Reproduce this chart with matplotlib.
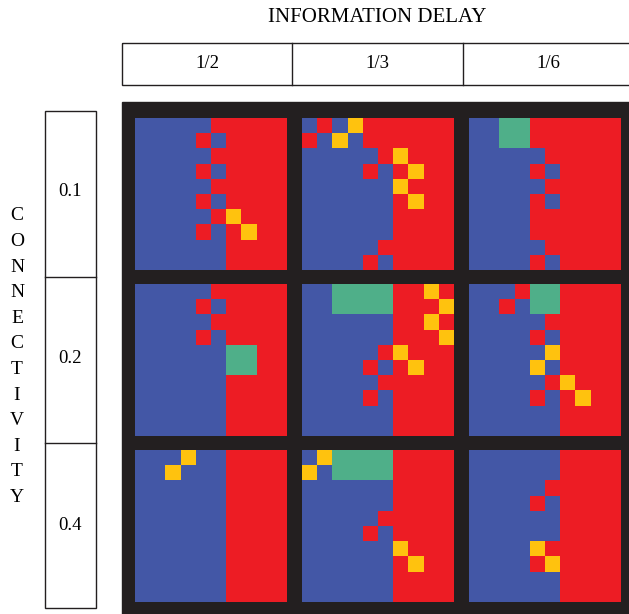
import matplotlib
matplotlib.use("Agg")
import matplotlib.pyplot as plt
from matplotlib.colors import ListedColormap
from matplotlib.patches import Rectangle
import numpy as np

plt.rcParams["font.family"] = ["Liberation Serif", "DejaVu Serif"]

# column / row headers
delays = ["1/2", "1/3", "1/6"]
connectivity = ["0.1", "0.2", "0.4"]

# B = blue, R = red, Y = yellow, G = green
grid_01_12 = ["BBBBBRRRRR", "BBBBRBRRRR", "BBBBBRRRRR", "BBBBRBRRRR", "BBBBBRRRRR",
              "BBBBRBRRRR", "BBBBBRYRRR", "BBBBRBRYRR", "BBBBBBRRRR", "BBBBBBRRRR"]
grid_01_13 = ["BRBYRRRRRR", "RBYBRRRRRR", "BBBBBRYRRR", "BBBBRBRYRR", "BBBBBBYRRR",
              "BBBBBBRYRR", "BBBBBBRRRR", "BBBBBBRRRR", "BBBBBRRRRR", "BBBBRBRRRR"]
grid_01_16 = ["BBGGRRRRRR", "BBGGRRRRRR", "BBBBBRRRRR", "BBBBRBRRRR", "BBBBBRRRRR",
              "BBBBRBRRRR", "BBBBRRRRRR", "BBBBRRRRRR", "BBBBBRRRRR", "BBBBRBRRRR"]
grid_02_12 = ["BBBBBRRRRR", "BBBBRBRRRR", "BBBBBRRRRR", "BBBBRBRRRR", "BBBBBBGGRR",
              "BBBBBBGGRR", "BBBBBBRRRR", "BBBBBBRRRR", "BBBBBBRRRR", "BBBBBBRRRR"]
grid_02_13 = ["BBGGGGRRYR", "BBGGGGRRRY", "BBBBBBRRYR", "BBBBBBRRRY", "BBBBBRYRRR",
              "BBBBRBRYRR", "BBBBBRRRRR", "BBBBRBRRRR", "BBBBBBRRRR", "BBBBBBRRRR"]
grid_02_16 = ["BBBRGGRRRR", "BBRBGGRRRR", "BBBBBRRRRR", "BBBBRBRRRR", "BBBBBYRRRR",
              "BBBBYBRRRR", "BBBBBRYRRR", "BBBBRBRYRR", "BBBBBBRRRR", "BBBBBBRRRR"]
grid_04_12 = ["BBBYBBRRRR", "BBYBBBRRRR", "BBBBBBRRRR", "BBBBBBRRRR", "BBBBBBRRRR",
              "BBBBBBRRRR", "BBBBBBRRRR", "BBBBBBRRRR", "BBBBBBRRRR", "BBBBBBRRRR"]
grid_04_13 = ["BYGGGGRRRR", "YBGGGGRRRR", "BBBBBBRRRR", "BBBBBBRRRR", "BBBBBRRRRR",
              "BBBBRBRRRR", "BBBBBBYRRR", "BBBBBBRYRR", "BBBBBBRRRR", "BBBBBBRRRR"]
grid_04_16 = ["BBBBBBRRRR", "BBBBBBRRRR", "BBBBBRRRRR", "BBBBRBRRRR", "BBBBBBRRRR",
              "BBBBBBRRRR", "BBBBYRRRRR", "BBBBRYRRRR", "BBBBBBRRRR", "BBBBBBRRRR"]

grids = [[grid_01_12, grid_01_13, grid_01_16],
         [grid_02_12, grid_02_13, grid_02_16],
         [grid_04_12, grid_04_13, grid_04_16]]

codes = {"B": 0, "R": 1, "Y": 2, "G": 3}
cmap = ListedColormap(["#4357a6", "#ed1c24", "#ffc20e", "#4faf89"])
dark = "#231f20"

W, H = 629, 614
fig = plt.figure(figsize=(W / 100, H / 100), dpi=100)

# overlay axes in pixel coordinates for frame, headers and labels
ov = fig.add_axes([0, 0, 1, 1])
ov.set_xlim(0, W)
ov.set_ylim(H, 0)
ov.axis("off")

ov.add_patch(Rectangle((122, 102), W - 122, H - 102, color=dark, zorder=0))

ov.text(377, 18, "INFORMATION DELAY", ha="center", va="center", fontsize=15)
ov.add_patch(Rectangle((122, 43), 510, 42, fill=False, ec="#231f20", lw=1.0))
for xd in [292, 463]:
    ov.plot([xd, xd], [43, 85], color="#231f20", lw=1.0)
for i, lab in enumerate(delays):
    ov.text(207 + 170.5 * i, 63, lab, ha="center", va="center", fontsize=13.5)

ov.add_patch(Rectangle((45, 111), 51, 497, fill=False, ec="#231f20", lw=1.0))
for yd in [277, 443]:
    ov.plot([45, 96], [yd, yd], color="#231f20", lw=1.0)
for i, lab in enumerate(connectivity):
    ov.text(70, 192 + 166.5 * i, lab, ha="center", va="center", fontsize=13.5)

word = "CONNECTIVITY"
for i, ch in enumerate(word):
    ov.text(17, 216 + i * 25.6, ch, ha="center", va="center", fontsize=14)

# the 3x3 panels
x0s = [135, 302, 469]
y0s = [118, 284, 450]
size = 152
for r in range(3):
    for c in range(3):
        arr = np.array([[codes[ch] for ch in row] for row in grids[r][c]])
        ax = fig.add_axes([x0s[c] / W, 1 - (y0s[r] + size) / H, size / W, size / H])
        ax.imshow(arr, cmap=cmap, vmin=0, vmax=3, interpolation="nearest", aspect="auto")
        ax.axis("off")

fig.savefig("out.png", dpi=100)
